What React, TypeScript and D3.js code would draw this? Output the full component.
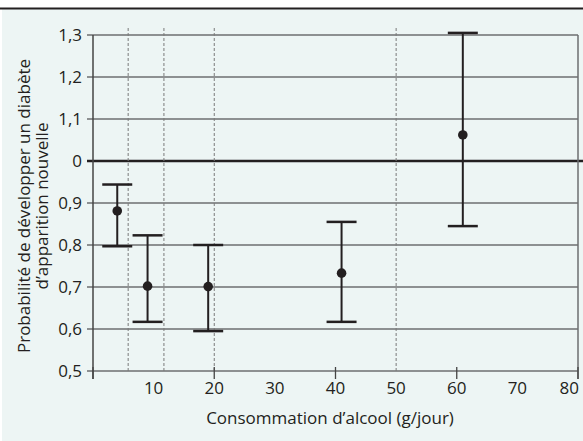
import React from "react";
import * as d3 from "d3";

// values
const doses = [4, 9, 19, 41, 61];
const estimates = [0.881, 0.702, 0.701, 0.733, 1.062];
const lowers = [0.797, 0.617, 0.595, 0.617, 0.845];
const uppers = [0.944, 0.823, 0.8, 0.855, 1.305];

const yTicks = [0.5, 0.6, 0.7, 0.8, 0.9, 1.0, 1.1, 1.2, 1.3];
const yTickLabels = ["0,5", "0,6", "0,7", "0,8", "0,9", "0", "1,1", "1,2", "1,3"];
const xLabelTicks = [10, 20, 30, 40, 50, 60, 70, 80];
const xMarkTicks = [0, 20, 40, 60, 80];
const dashedCuts = [5.8, 11.7, 20, 50];

const W = 583;
const H = 441;
const FONT = "'Open Sans', 'Noto Sans', sans-serif";

export default function App() {
    const x = d3.scaleLinear().domain([0, 80]).range([93, 578]);
    const y = d3.scaleLinear().domain([0.5, 1.3]).range([371, 35]);
    const ink = "#231f20";
    const capHalf = 15;
    const fs = 17;

    return (
        <svg width={W} height={H} style={{ position: "absolute", left: 0, top: 0 }} fontFamily={FONT}>
            <rect x={0} y={0} width={W} height={H} fill="#fff" />
            <rect x={2} y={9} width={W - 2} height={H - 9} fill="#edf5f4" />
            <line x1={0} x2={W} y1={8.5} y2={8.5} stroke={ink} strokeWidth={2} />

            {/* horizontal grid */}
            {yTicks.map((t) => (
                <line key={"g" + t} x1={x(0) - 6} x2={t === 1.0 ? W : x(80)} y1={y(t)} y2={y(t)}
                    stroke={t === 1.0 ? ink : "#6d6e70"} strokeWidth={t === 1.0 ? 2.5 : 1.4} />
            ))}

            {/* dashed cut-offs */}
            {dashedCuts.map((c) => (
                <line key={"d" + c} x1={x(c)} x2={x(c)} y1={28} y2={y(0.5)}
                    stroke="#7a7a7a" strokeWidth={1} strokeDasharray="3,2" />
            ))}

            {/* axes frame */}
            <line x1={x(0)} x2={x(0)} y1={y(1.3)} y2={y(0.5) + 8} stroke="#444" strokeWidth={1.5} />
            <line x1={x(80)} x2={x(80)} y1={y(1.3)} y2={y(0.5) + 8} stroke="#6d6e70" strokeWidth={1.5} />
            {xMarkTicks.map((t) => (
                <line key={"xt" + t} x1={x(t)} x2={x(t)} y1={y(0.5) - 4} y2={y(0.5) + 8} stroke="#444" strokeWidth={1.3} />
            ))}

            {/* tick labels */}
            {yTicks.map((t, i) => (
                <text key={"yl" + t} x={82} y={y(t)} dy="0.35em" textAnchor="end" fontSize={fs} fill={ink}>
                    {yTickLabels[i]}
                </text>
            ))}
            {xLabelTicks.map((t) => (
                <text key={"xl" + t} x={t === 80 ? x(t) + 1 : x(t)} y={394}
                    textAnchor={t === 80 ? "end" : "middle"} fontSize={fs} fill={ink}>
                    {t}
                </text>
            ))}

            {/* error bars */}
            {doses.map((d, i) => (
                <g key={"e" + i}>
                    <line x1={x(d)} x2={x(d)} y1={y(uppers[i])} y2={y(lowers[i])} stroke={ink} strokeWidth={2} />
                    <line x1={x(d) - capHalf} x2={x(d) + capHalf} y1={y(uppers[i])} y2={y(uppers[i])} stroke={ink} strokeWidth={2.5} />
                    <line x1={x(d) - capHalf} x2={x(d) + capHalf} y1={y(lowers[i])} y2={y(lowers[i])} stroke={ink} strokeWidth={2.5} />
                    <circle cx={x(d)} cy={y(estimates[i])} r={4.8} fill={ink} />
                </g>
            ))}

            {/* axis titles */}
            <text x={330} y={424} textAnchor="middle" fontSize={fs} fill={ink}>
                Consommation d’alcool (g/jour)
            </text>
            <text transform={`translate(30,206) rotate(-90)`} textAnchor="middle" fontSize={fs} fill={ink}>
                Probabilité de développer un diabète
            </text>
            <text transform={`translate(48,206) rotate(-90)`} textAnchor="middle" fontSize={fs} fill={ink}>
                d’apparition nouvelle
            </text>
        </svg>
    );
}
